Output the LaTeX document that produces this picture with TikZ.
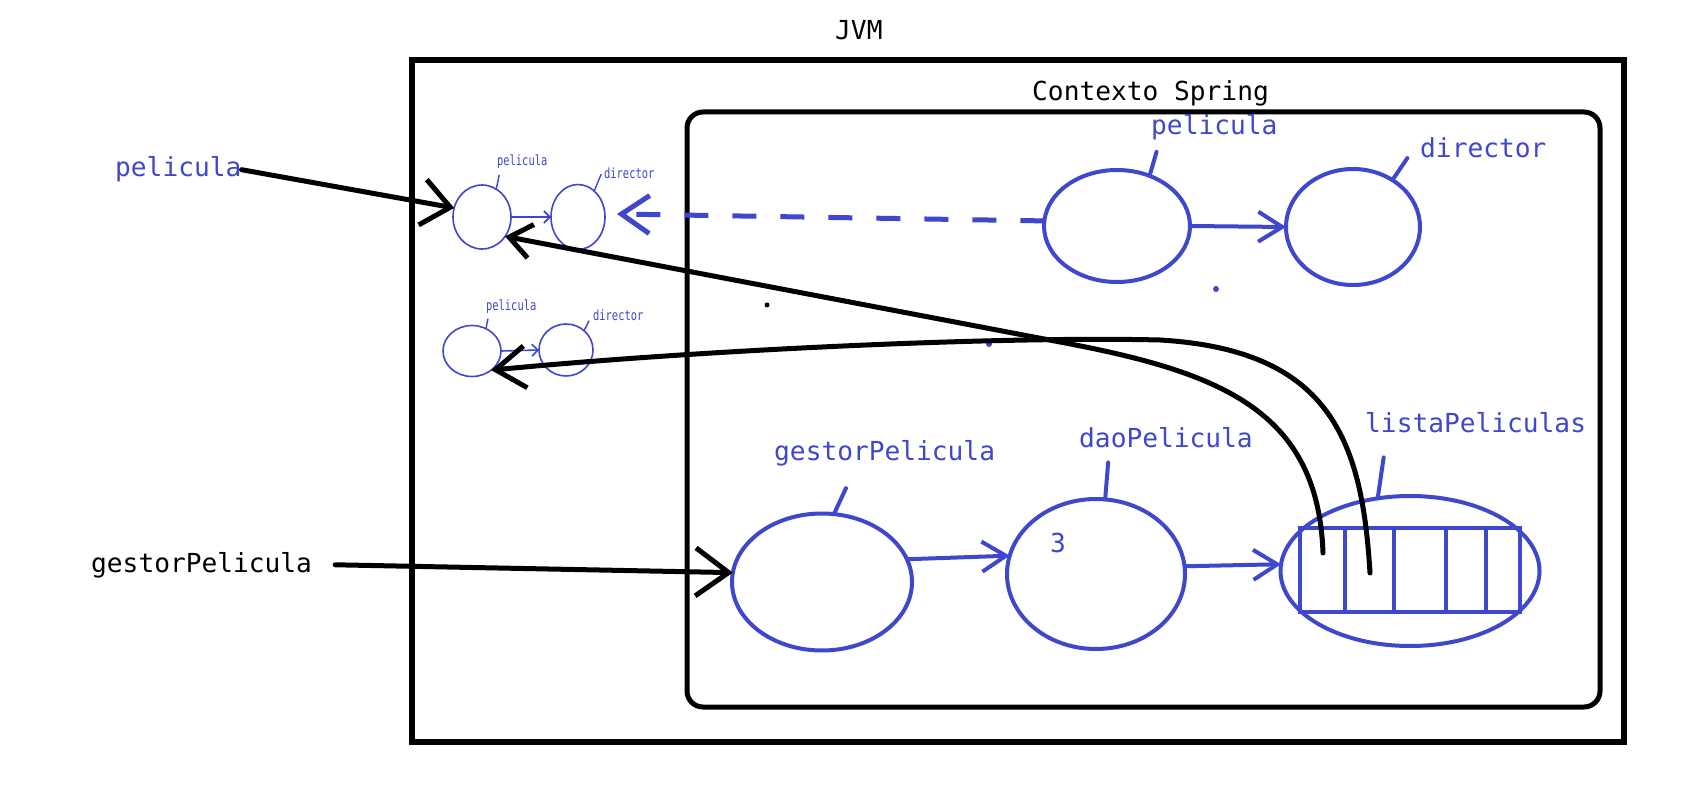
\documentclass[tikz,border=0pt]{standalone}
\usepackage{fontspec}
\newfontfamily\dvm{DejaVu Sans Mono}
\usetikzlibrary{arrows.meta,shapes.geometric}
\definecolor{pb}{HTML}{3F48CC}
\begin{document}
\begin{tikzpicture}[x=1pt,y=-1pt,
 bean/.style={draw=pb, ellipse, inner sep=0pt, outer sep=0pt, line width=4pt},
 sbean/.style={draw=pb, ellipse, inner sep=0pt, outer sep=0pt, line width=1.6pt},
 lbl/.style={inner sep=0pt, anchor=base west, font=\dvm\fontsize{26.2}{30}\selectfont},
 slbl/.style={inner sep=0pt, anchor=base west, text=pb, font=\dvm\fontsize{10.4}{12}\selectfont},
 barr/.style={draw=pb, line width=4pt, -{Straight Barb[length=24pt,width=30pt]}},
 sarr/.style={draw=pb, line width=1.6pt, -{Straight Barb[length=6pt,width=12pt]}},
 karr/.style={draw=black, line width=5pt, line cap=round, -{Straight Barb[length=28pt,width=46pt]}},
 tickln/.style={draw=pb, line width=4pt, line cap=round},
 stickln/.style={draw=pb, line width=1.4pt},
 frame/.style={draw=black, line width=6pt},
]
\useasboundingbox (0,0) rectangle (1689,794);
\fill[white] (0,0) rectangle (1689,794);

% containers
\draw[frame] (412,60) rectangle (1624,742);
\draw[frame, line width=5pt, rounded corners=16pt] (687,112) rectangle (1600,707);

% labels
\node[lbl] (jvmL) at (835,40) {JVM};
\node[lbl] (ctxL) at (1032,101) {Contexto Spring};
\node[lbl,text=pb] (pelL) at (1151,135) {pelicula};
\node[lbl,text=pb] (dirL) at (1420,158) {director};
\node[lbl,text=pb] (gesL) at (774,460) {gestorPelicula};
\node[lbl,text=pb] (daoL) at (1079,447) {daoPelicula};
\node[lbl,text=pb] (listaL) at (1365,432) {listaPeliculas};
\node[lbl,text=pb] (three) at (1050,552) {3};
\node[lbl,text=pb] (extPel) at (115,177) {pelicula};
\node[lbl] (extGes) at (91,572) {gestorPelicula};
\node[slbl] (p1L) at (497,166) {\scalebox{1}[1.35]{pelicula}};
\node[slbl] (d1L) at (604,179) {\scalebox{1}[1.35]{director}};
\node[slbl] (p2L) at (486,311) {\scalebox{1}[1.35]{pelicula}};
\node[slbl] (d2L) at (593,320) {\scalebox{1}[1.35]{director}};

% beans
\node[bean, minimum width=146pt, minimum height=112pt] (pel) at (1117,226) {};
\node[bean, minimum width=134pt, minimum height=116pt] (dir) at (1353,227) {};
\node[bean, minimum width=180pt, minimum height=137pt] (gestor) at (822,582) {};
\node[bean, minimum width=178pt, minimum height=150pt] (dao) at (1096,574) {};
\node[bean, minimum width=259pt, minimum height=150pt] (lista) at (1410,571) {};
\node[sbean, minimum width=58pt, minimum height=64pt] (pel1) at (482,217) {};
\node[sbean, minimum width=54pt, minimum height=65pt] (dir1) at (578,217) {};
\node[sbean, minimum width=58pt, minimum height=51pt] (pel2) at (472,351) {};
\node[sbean, minimum width=54pt, minimum height=52pt] (dir2) at (566,350) {};

% list cells
\draw[pb, line width=4.5pt] (1300,528) rectangle (1520,612);
\foreach \x in {1345,1394,1446,1486} \draw[pb, line width=4.5pt] (\x,528) -- (\x,612);

% ticks to labels
\draw[tickln] (pel.57) -- ++(7,-24);
\draw[tickln] (dir.50) -- ++(15,-22);
\draw[tickln] (gestor.80) -- ++(12,-26);
\draw[tickln] (dao.83) -- ++(3,-37);
\draw[tickln] (lista.114) -- ++(6,-41);
\draw[stickln] (pel1.63) -- ++(3,-14);
\draw[stickln] (dir1.58) -- ++(7,-17);
\draw[stickln] (pel2.58) -- ++(2,-10);
\draw[stickln] (dir2.47) -- ++(5,-10);

% blue arrows
\draw[barr] (pel.0) -- (dir.180);
\draw[barr] (gestor.15) -- (dao.168);
\draw[barr] (dao.5) -- (lista.177);
\draw[sarr] (pel1.east) -- (dir1.west);
\draw[sarr] (pel2.east) -- (dir2.west);
\draw[pb, line width=5pt, dash pattern=on 24pt off 24pt, -{Straight Barb[length=28pt,width=38pt]}] (pel.176) -- ([xshift=12pt,yshift=3pt]dir1.east);

% stray dots
\fill (767,305) circle (2.5pt);
\fill[pb] (989,344) circle (3pt);
\fill[pb] (1216,289) circle (3pt);
\fill[pb] (523,253) circle (1pt);

% black references
\coordinate (c1) at (1323,553);
\coordinate (c2) at (1370,573);
\draw[karr] (extPel.east) -- (pel1.162);
\draw[karr, -{Straight Barb[length=33pt,width=48pt]}] ([xshift=23pt]extGes.east) -- (gestor.174);
\draw[karr, -{Straight Barb[length=22pt,width=34pt]}] (c1) .. controls (1318,410) and (1220,372) .. (1060,342) -- (pel1.320);
\draw[karr, -{Straight Barb[length=30pt,width=42pt]}] (c2) .. controls (1362,440) and (1330,350) .. (1160,340) .. controls (1000,336) and (700,350) .. (pel2.315);
\end{tikzpicture}
\end{document}
